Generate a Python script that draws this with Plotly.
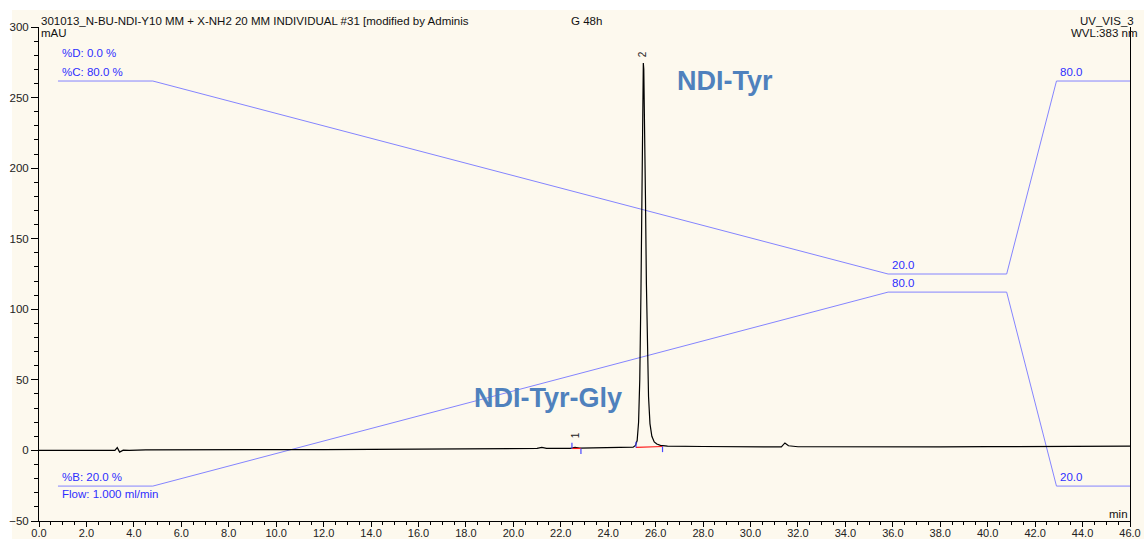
import plotly.graph_objects as go

# Chromatogram: retention time (min) and absorbance (mAU) at 383 nm
trace_time = [
    0.0, 3.2, 3.3, 3.4, 3.55, 3.8, 4.5, 8.0, 12.0, 16.0, 20.0,
    21.0, 21.2, 21.4, 22.4, 22.6, 22.8, 24.0, 25.0,
    25.05, 25.15, 25.22, 25.28, 25.33, 25.38, 25.43, 25.46, 25.48,
    25.50, 25.53, 25.57, 25.61, 25.65, 25.70, 25.76, 25.84, 25.94,
    26.05, 26.2, 26.5, 28.0, 30.0, 31.3, 31.45, 31.6, 32.0, 34.0,
    36.0, 38.0, 40.0, 42.0, 44.0, 46.0,
]
trace_mau = [
    0.0, 0.1, 2.0, -1.2, 0.2, 0.0, 0.4, 0.3, 0.6, 0.9, 1.2,
    1.4, 2.2, 1.5, 1.5, 2.2, 1.6, 1.8, 2.0,
    2.3, 3.5, 7.0, 20.0, 50.0, 112.0, 200.0, 258.0, 274.5,
    270.0, 238.0, 180.0, 118.0, 72.0, 38.0, 19.0, 10.0, 6.0,
    4.5, 3.6, 3.0, 2.8, 2.6, 2.5, 5.3, 3.3, 2.6, 2.4,
    2.6, 2.5, 2.7, 2.8, 2.9, 3.0,
]

# Integrated peaks: number, apex, start/end of integration and baseline levels
peak_no = ["1", "2"]
peak_apex_time = [22.6, 25.48]
peak_apex_mau = [2.2, 274.5]
peak_start = [22.47, 25.17]
peak_end = [22.85, 26.29]
peak_base_start = [1.4, 2.1]
peak_base_end = [1.4, 2.8]
marker_len = 4.0

# Pump gradient program (time in min, solvent percentages)
grad_time = [0.8, 4.8, 35.8, 40.8, 42.9, 46.0]
pct_c = [80, 80, 20, 20, 80, 80]
pct_b = [20, 20, 80, 80, 20, 20]

# Axis ticks
x_range = [0, 46]
y_range = [-50, 300]
x_ticks = [i * 2.0 for i in range(24)]
y_ticks = [-50, 0, 50, 100, 150, 200, 250, 300]

FONT = "Liberation Sans, Arial, sans-serif"
CREAM = "#FDF9EE"
GRAD_LINE = "#8484FF"
GRAD_TEXT = "#2E2EFF"
LABEL_BLUE = "#4F81BD"

fig = go.Figure()

# gradient lines on their own (hidden) percentage scales
fig.add_trace(go.Scatter(x=grad_time, y=pct_c, mode="lines", yaxis="y2",
                         line=dict(color=GRAD_LINE, width=1), hoverinfo="skip"))
fig.add_trace(go.Scatter(x=grad_time, y=pct_b, mode="lines", yaxis="y3",
                         line=dict(color=GRAD_LINE, width=1), hoverinfo="skip"))

# detector signal
fig.add_trace(go.Scatter(x=trace_time, y=trace_mau, mode="lines", yaxis="y4",
                         line=dict(color="#000000", width=1.2), hoverinfo="skip"))

# integration baselines and start/end markers
for i in range(len(peak_no)):
    fig.add_trace(go.Scatter(x=[peak_start[i], peak_end[i]],
                             y=[peak_base_start[i], peak_base_end[i]],
                             mode="lines", yaxis="y4",
                             line=dict(color="#FF1A1A", width=1.2), hoverinfo="skip"))
    fig.add_trace(go.Scatter(x=[peak_start[i], peak_start[i]],
                             y=[peak_base_start[i], peak_base_start[i] + marker_len],
                             mode="lines", yaxis="y4",
                             line=dict(color="#4848FF", width=1.2), hoverinfo="skip"))
    fig.add_trace(go.Scatter(x=[peak_end[i], peak_end[i]],
                             y=[peak_base_end[i], peak_base_end[i] - marker_len],
                             mode="lines", yaxis="y4",
                             line=dict(color="#4848FF", width=1.2), hoverinfo="skip"))

annotations = []

# peak numbers
for i in range(len(peak_no)):
    annotations.append(dict(x=peak_apex_time[i], y=peak_apex_mau[i], xref="x", yref="y",
                            text=peak_no[i], textangle=-90, showarrow=False,
                            yanchor="bottom", yshift=4 if i == 1 else 7,
                            font=dict(family=FONT, size=10, color="#222222")))

# compound labels
annotations.append(dict(x=28.93, y=262, xref="x", yref="y", text="<b>NDI-Tyr</b>",
                        showarrow=False, font=dict(family=FONT, size=27, color=LABEL_BLUE)))
annotations.append(dict(x=21.45, y=37.5, xref="x", yref="y", text="<b>NDI-Tyr-Gly</b>",
                        showarrow=False, font=dict(family=FONT, size=27, color=LABEL_BLUE)))

# gradient annotations
gfont = dict(family=FONT, size=11.5, color=GRAD_TEXT)
annotations += [
    dict(x=grad_time[0], y=pct_c[0], xref="x", yref="y2", text="%D: 0.0 %",
         xanchor="left", yanchor="bottom", xshift=2, yshift=20, showarrow=False, font=gfont),
    dict(x=grad_time[0], y=pct_c[0], xref="x", yref="y2", text="%C: 80.0 %",
         xanchor="left", yanchor="bottom", xshift=2, yshift=1, showarrow=False, font=gfont),
    dict(x=grad_time[0], y=pct_b[0], xref="x", yref="y3", text="%B: 20.0 %",
         xanchor="left", yanchor="bottom", xshift=2, yshift=1, showarrow=False, font=gfont),
    dict(x=grad_time[0], y=pct_b[0], xref="x", yref="y3", text="Flow: 1.000 ml/min",
         xanchor="left", yanchor="top", xshift=2, yshift=0, showarrow=False, font=gfont),
    dict(x=grad_time[2], y=pct_c[2], xref="x", yref="y2", text="%.1f" % pct_c[2],
         xanchor="left", yanchor="bottom", xshift=2, yshift=1, showarrow=False, font=gfont),
    dict(x=grad_time[2], y=pct_b[2], xref="x", yref="y3", text="%.1f" % pct_b[2],
         xanchor="left", yanchor="bottom", xshift=2, yshift=1, showarrow=False, font=gfont),
    dict(x=grad_time[4], y=pct_c[4], xref="x", yref="y2", text="%.1f" % pct_c[4],
         xanchor="left", yanchor="bottom", xshift=2, yshift=1, showarrow=False, font=gfont),
    dict(x=grad_time[4], y=pct_b[4], xref="x", yref="y3", text="%.1f" % pct_b[4],
         xanchor="left", yanchor="bottom", xshift=2, yshift=1, showarrow=False, font=gfont),
]

# header texts
hfont = dict(family=FONT, size=11.5, color="#111111")
annotations += [
    dict(x=0, y=1, xref="paper", yref="paper", xanchor="left", yanchor="bottom", yshift=-2,
         text="301013_N-BU-NDI-Y10 MM + X-NH2 20 MM INDIVIDUAL #31 [modified by Adminis",
         showarrow=False, font=hfont),
    dict(x=0.502, y=1, xref="paper", yref="paper", xanchor="center", yanchor="bottom", yshift=-2,
         text="G 48h", showarrow=False, font=hfont),
    dict(x=1, y=1, xref="paper", yref="paper", xanchor="right", yanchor="bottom", yshift=-2,
         xshift=6, text="UV_VIS_3", showarrow=False, font=hfont),
    dict(x=1, y=1, xref="paper", yref="paper", xanchor="right", yanchor="top", yshift=2,
         xshift=9, text="WVL:383 nm", showarrow=False, font=hfont),
    dict(x=0, y=1, xref="paper", yref="paper", xanchor="left", yanchor="top", yshift=2,
         text="mAU", showarrow=False, font=hfont),
    dict(x=1, y=0, xref="paper", yref="paper", xanchor="right", yanchor="bottom", yshift=-1,
         text="min", showarrow=False, font=hfont),
]

# cream panel behind the whole chart area
shapes = [dict(type="rect", xref="paper", yref="paper", layer="below",
               x0=-0.0247, x1=1.02, y0=-0.05, y1=1.0344,
               fillcolor=CREAM, line=dict(width=0))]

ytickfont = dict(family=FONT, size=11.5, color="#222222")
xtickfont = dict(family=FONT, size=11, color="#222222")

fig.update_layout(
    width=1144, height=539,
    margin=dict(l=39, r=14, t=27, b=18, autoexpand=False),
    paper_bgcolor="#FFFFFF",
    plot_bgcolor="rgba(0,0,0,0)",
    showlegend=False,
    annotations=annotations,
    shapes=shapes,
    xaxis=dict(range=x_range, tickvals=x_ticks, ticktext=["%.1f" % v for v in x_ticks],
               showgrid=False, zeroline=False, showline=True, linecolor="#000000",
               linewidth=1, ticks="outside", ticklen=5, tickcolor="#000000",
               minor=dict(dtick=0.5, ticks="outside", ticklen=3, tickcolor="#000000"),
               tickfont=xtickfont, ticklabelstandoff=-3, automargin=False),
    yaxis=dict(range=y_range, tickvals=y_ticks, showgrid=False, zeroline=False,
               showline=True, mirror=True, linecolor="#000000", linewidth=1,
               ticks="outside", ticklen=7, tickcolor="#000000",
               minor=dict(dtick=10, ticks="outside", ticklen=4, tickcolor="#000000"),
               tickfont=ytickfont, ticklabelstandoff=0, automargin=False),
    yaxis2=dict(range=[-56.8, 96.8], overlaying="y", visible=False),
    yaxis3=dict(range=[9.2, 162.0], overlaying="y", visible=False),
    yaxis4=dict(range=y_range, overlaying="y", visible=False),
)

fig.write_html("out.html")
